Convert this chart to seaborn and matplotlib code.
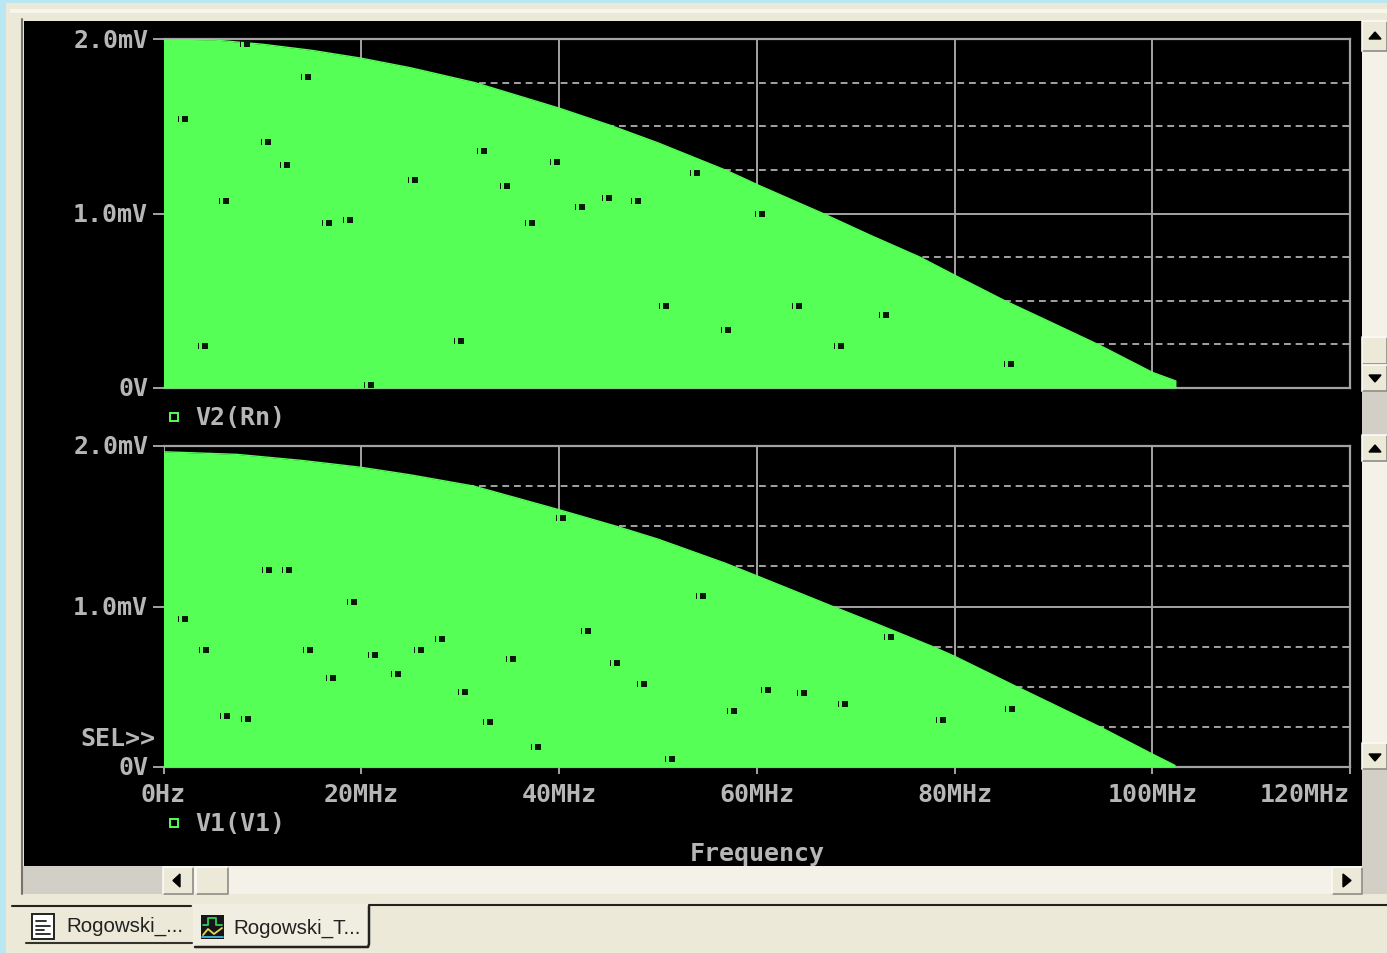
import matplotlib
matplotlib.use('Agg')
import matplotlib.pyplot as plt
from matplotlib.path import Path
from matplotlib.patches import Rectangle, Polygon
from matplotlib.transforms import ScaledTranslation
import pandas as pd
import seaborn as sns

# envelope of each trace, MHz / mV
freq_v2 = [0, 5, 10, 15, 20, 25, 31.5, 40, 45.1, 50, 57, 60.3, 66.7, 71.5, 76.5, 80, 85.1, 90, 94.5, 100, 102.4]
curve_v2 = [2.0, 1.995, 1.97, 1.935, 1.89, 1.835, 1.75, 1.604, 1.507, 1.405, 1.245, 1.159, 1.0, 0.875, 0.75, 0.647,
            0.5, 0.37, 0.25, 0.09, 0.04]
freq_v1 = [0, 7.4, 14, 20, 25, 31.4, 40, 45.8, 50, 56.8, 60.3, 67.7, 72, 77.8, 80, 86.3, 90, 94.7, 100, 102.3]
curve_v1 = [1.964, 1.948, 1.91, 1.867, 1.82, 1.75, 1.603, 1.5, 1.42, 1.27, 1.184, 1.0, 0.895, 0.75, 0.69,
            0.5, 0.39, 0.25, 0.081, 0.01]

# little dropouts inside the filled area
dots_v2_x = [1.97, 8.24, 14.4, 10.36, 12.29, 6.12, 16.53, 18.66, 25.23, 32.2, 34.53, 37.06, 39.58, 42.1,
             44.84, 47.77, 53.74, 60.3, 50.6, 56.88, 64.06, 68.3, 72.85, 85.5, 3.99, 20.78, 29.88]
dots_v2_y = [1.54, 1.97, 1.78, 1.41, 1.28, 1.07, 0.945, 0.96, 1.19, 1.36, 1.16, 0.945, 1.295, 1.04,
             1.09, 1.07, 1.23, 1.00, 0.47, 0.33, 0.47, 0.24, 0.42, 0.14, 0.24, 0.02, 0.27]
dots_v1_x = [1.97, 4.1, 6.22, 8.34, 10.47, 12.49, 14.61, 16.94, 19.06, 21.18, 23.5, 25.83, 27.96, 30.28, 32.81,
             35.14, 37.67, 40.19, 42.72, 45.65, 48.38, 51.2, 54.35, 57.48, 60.92, 64.56, 68.71, 73.36, 78.6, 85.6]
dots_v1_y = [0.92, 0.73, 0.32, 0.30, 1.23, 1.23, 0.73, 0.555, 1.03, 0.70, 0.58, 0.73, 0.80, 0.47, 0.28,
             0.67, 0.125, 1.55, 0.85, 0.65, 0.52, 0.05, 1.065, 0.35, 0.48, 0.46, 0.39, 0.81, 0.29, 0.36]

x_ticks = [0, 20, 40, 60, 80, 100, 120]
x_labels = ['0Hz', '20MHz', '40MHz', '60MHz', '80MHz', '100MHz', '120MHz']
y_ticks = [0, 1, 2]
y_labels = ['0V', '1.0mV', '2.0mV']
y_minor = [0.25, 0.5, 0.75, 1.25, 1.5, 1.75]

GREEN = '#55ff55'
GREY = '#a3a3a3'
TXT = '#b6b6b6'
FACE = '#ece9d8'
TRACK = '#f3f1e8'
SHADE = '#d2cfc6'
W, H = 1387, 954
MONO = dict(family='DejaVu Sans Mono', weight='bold', size=18, color=TXT)

sns.set_theme(style='dark')
plt.rcParams['font.family'] = ['DejaVu Sans']

fig = plt.figure(figsize=(W / 100, H / 100), dpi=100)

# window chrome, in screen pixels
bg = fig.add_axes([0, 0, 1, 1], zorder=-1)
bg.set_xlim(0, W)
bg.set_ylim(H, 0)
bg.axis('off')


def box(x0, y0, x1, y1, color, **kw):
    bg.add_patch(Rectangle((x0, y0), x1 - x0, y1 - y0, facecolor=color, edgecolor='none', **kw))


def button(x0, y0, x1, y1, pts=None):
    box(x0, y0, x1, y1, FACE)
    bg.plot([x0, x1, x1], [y1, y1, y0], color='#8f8d84', lw=1.2)
    bg.plot([x0, x0, x1], [y1, y0, y0], color='#fbfaf5', lw=1.2)
    if pts:
        bg.add_patch(Polygon(pts, closed=True, color='black'))


box(0, 0, W, H, '#b9e8f2')
box(6, 4, W, H, FACE)
box(10, 10, W, 14, '#f7f5ec')
box(24, 22, 1362, 867, 'black')

# right scrollbars
box(1362, 22, W, 392, TRACK)
box(1362, 392, W, 436, SHADE)
box(1362, 436, W, 770, TRACK)
box(1362, 770, W, 895, SHADE)
button(1362, 338, W, 365)
button(1362, 22, W, 52, [(1369, 40), (1381, 40), (1375, 33)])
button(1362, 366, W, 392, [(1369, 376), (1381, 376), (1375, 383)])
button(1362, 436, W, 462, [(1369, 453), (1381, 453), (1375, 446)])
button(1362, 744, W, 770, [(1369, 755), (1381, 755), (1375, 762)])

# bottom scrollbar
box(23, 867, 163, 895, SHADE)
box(163, 867, 1362, 895, TRACK)
button(163, 868, 193, 895, [(180, 875), (180, 888), (173, 881.5)])
button(196, 868, 228, 895)
button(1332, 868, 1362, 895, [(1343, 875), (1343, 888), (1351, 881.5)])
bg.plot([22, 22], [20, 895], color='#77756c', lw=1.5)

# tabs at the bottom
bg.plot([12, 191], [907, 907], color='#22221e', lw=1.5)
bg.plot([369, W], [906, 906], color='#22221e', lw=1.5)
bg.plot([26, 192], [944, 944], color='#33332e', lw=1.5)
bg.plot([195, 368, 369, 369], [948, 948, 945, 907], color='#22221e', lw=1.8)
box(193, 905, 368, 947, '#f0eee1')
bg.text(66, 926, 'Rogowski_...', family='Liberation Sans', size=14.8, color='#222222', va='center')
bg.text(233, 928, 'Rogowski_T...', family='Liberation Sans', size=14.8, color='#222222', va='center')
box(32, 915, 54, 940, 'white')
bg.add_patch(Rectangle((32, 915), 22, 25, fill=False, edgecolor='#222222', lw=1.4))
for yy, x1 in [(922, 46), (927, 50), (931, 44), (935, 50)]:
    bg.plot([36, x1], [yy, yy], color='#222222', lw=1.3)
box(201, 916, 224, 940, '#15151a')
bg.plot([203, 208, 208, 216, 216, 222], [926, 926, 919, 919, 926, 926], color='#33cc55', lw=1.3)
bg.plot([203, 208, 214, 222], [936, 930, 935, 929], color='#e8d84a', lw=1.3)
bg.plot([202, 223], [938, 938], color='#44bbdd', lw=1.3)

# marker: short bar next to a small block
bar_block = Path.make_compound_path(
    Path([(-1, -0.55), (-0.75, -0.55), (-0.75, 0.55), (-1, 0.55), (-1, -0.55)]),
    Path([(-0.25, -0.5), (1, -0.5), (1, 0.5), (-0.25, 0.5), (-0.25, -0.5)]),
)


def draw_panel(top, bottom, freq, curve, dots_x, dots_y):
    ax = fig.add_axes([163.5 / W, (H - bottom) / H, (1350 - 163.5) / W, (bottom - top) / H])
    ax.set_facecolor('black')
    env = pd.DataFrame({'freq': freq, 'volt': curve})
    dots = pd.DataFrame({'freq': dots_x, 'volt': dots_y})
    ax.fill_between(env['freq'], 0, env['volt'], color=GREEN, lw=0, zorder=3)
    sns.lineplot(data=env, x='freq', y='volt', color=GREEN, lw=1, ax=ax, zorder=3, estimator=None)
    sns.scatterplot(data=dots, x='freq', y='volt', marker=bar_block, s=62, color='#0a1a0a',
                    linewidth=0, ax=ax, zorder=4, clip_on=False)
    ax.set_xlim(0, 120)
    ax.set_ylim(0, 2)
    ax.set_xlabel('')
    ax.set_ylabel('')
    ax.set_xticks(x_ticks)
    ax.set_yticks(y_ticks)
    ax.set_yticklabels(y_labels, **MONO)
    ax.set_yticks(y_minor, minor=True)
    ax.grid(True, which='major', color=GREY, lw=1.4)
    ax.grid(True, which='minor', axis='y', color=GREY, lw=1.4, ls=(0, (3.5, 2.5)))
    ax.set_axisbelow(True)
    ax.tick_params(axis='y', which='major', left=True, length=8, width=1.4, color=GREY, pad=3)
    ax.tick_params(axis='y', which='minor', left=False)
    for side in ['top', 'right', 'bottom']:
        ax.spines[side].set_color(GREY)
        ax.spines[side].set_linewidth(1.6)
    ax.spines['left'].set_visible(False)
    return ax


ax_top = draw_panel(40, 389, freq_v2, curve_v2, dots_v2_x, dots_v2_y)
ax_top.tick_params(axis='x', bottom=False, labelbottom=False)

ax_low = draw_panel(447, 768, freq_v1, curve_v1, dots_v1_x, dots_v1_y)
ax_low.set_xticklabels(x_labels, **MONO)
ax_low.tick_params(axis='x', bottom=True, length=5, width=1.4, color=GREY, pad=6)
ax_low.get_xticklabels()[-1].set_ha('right')
ax_low.set_xlabel('Frequency', labelpad=25, **MONO)

# y labels sit a touch above their ticks
for ax in [ax_top, ax_low]:
    for lab in ax.get_yticklabels():
        lab.set_transform(lab.get_transform() + ScaledTranslation(0, 2 / 100, fig.dpi_scale_trans))

# trace names and the selection mark
for yy, name in [(418, 'V2(Rn)'), (824, 'V1(V1)')]:
    bg.add_patch(Rectangle((170, yy - 4), 8, 8, fill=False, edgecolor=GREEN, lw=1.4))
    fig.text(195 / W, 1 - yy / H, name, va='center', **MONO)
fig.text(80 / W, 1 - 739 / H, 'SEL>>', va='center', **MONO)

fig.savefig('out.png', dpi=100)
